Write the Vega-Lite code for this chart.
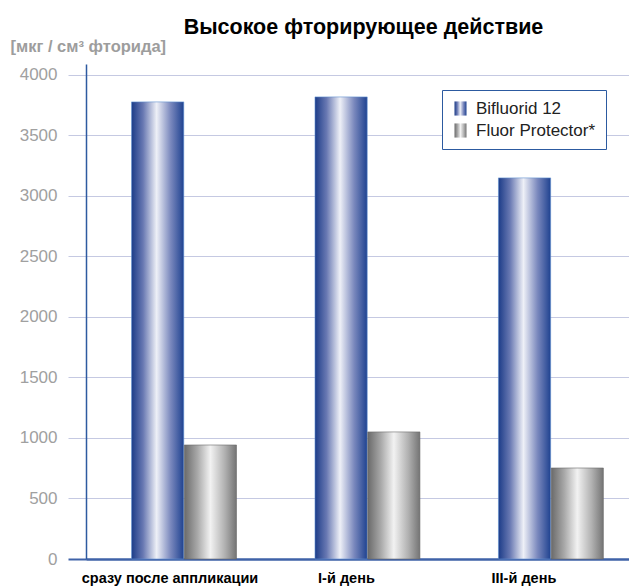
{
  "$schema": "https://vega.github.io/schema/vega-lite/v6.json",
  "width": 543,
  "height": 495,
  "autosize": {"type": "none"},
  "padding": {"left": 86, "top": 64, "right": 0, "bottom": 29},
  "background": "white",
  "title": {
    "text": "Высокое фторирующее действие",
    "font": "Liberation Sans",
    "fontSize": 21.5,
    "fontWeight": "bold",
    "color": "#000000",
    "anchor": "middle",
    "frame": "group",
    "baseline": "alphabetic",
    "offset": -17,
    "dx": 6
  },
  "config": {
    "view": {"stroke": null},
    "font": "Liberation Sans"
  },
  "data": {
    "values": [
      {"day": "сразу после аппликации", "series": "Bifluorid 12", "value": 3777},
      {"day": "сразу после аппликации", "series": "Fluor Protector*", "value": 942},
      {"day": "I-й день", "series": "Bifluorid 12", "value": 3818},
      {"day": "I-й день", "series": "Fluor Protector*", "value": 1050},
      {"day": "III-й день", "series": "Bifluorid 12", "value": 3149},
      {"day": "III-й день", "series": "Fluor Protector*", "value": 752}
    ]
  },
  "mark": {
    "type": "bar",
    "strokeWidth": 0.6,
    "stroke": {"expr": "datum.series === 'Bifluorid 12' ? '#5f8fd0' : '#6a6a6a'"}
  },
  "encoding": {
    "x": {
      "field": "day",
      "type": "nominal",
      "sort": null,
      "scale": {"paddingInner": 0.428, "paddingOuter": 0.194, "align": 0.64},
      "axis": {
        "title": null,
        "ticks": false,
        "labelAngle": 0,
        "labelFont": "Liberation Sans",
        "labelFontSize": 14.5,
        "labelFontWeight": "bold",
        "labelColor": "#000000",
        "labelPadding": 12,
        "labelOffset": {"condition": [
          {"test": "datum.value === 'сразу после аппликации'", "value": -14},
          {"test": "datum.value === 'III-й день'", "value": -27}
        ], "value": -21},
        "domainColor": "#3f62a8",
        "domainWidth": 2
      }
    },
    "xOffset": {
      "field": "series",
      "type": "nominal",
      "sort": ["Bifluorid 12", "Fluor Protector*"],
      "scale": {"domain": ["Bifluorid 12", "Fluor Protector*"], "paddingInner": 0.01, "paddingOuter": 0}
    },
    "y": {
      "field": "value",
      "type": "quantitative",
      "scale": {"domain": [0, 4090], "nice": false},
      "axis": {
        "title": "[мкг / см³ фторида]",
        "titleAngle": 0,
        "titleAlign": "left",
        "titleBaseline": "alphabetic",
        "titleX": -76,
        "titleY": -13,
        "titleFont": "Liberation Sans",
        "titleFontSize": 16.5,
        "titleFontWeight": "bold",
        "titleColor": "#9d9d9d",
        "values": [0, 500, 1000, 1500, 2000, 2500, 3000, 3500, 4000],
        "format": "d",
        "labelFont": "Liberation Sans",
        "labelFontSize": 17,
        "labelColor": "#a0a0a0",
        "labelPadding": 11,
        "tickSize": 18,
        "tickColor": {"condition": {"test": "datum.value === 0", "value": "#3f62a8"}, "value": "#c5c9e2"},
        "tickWidth": {"condition": {"test": "datum.value === 0", "value": 2}, "value": 1},
        "grid": true,
        "gridColor": {"condition": {"test": "datum.value === 0", "value": "#3f62a8"}, "value": "#c5c9e2"},
        "gridWidth": {"condition": {"test": "datum.value === 0", "value": 2}, "value": 1},
        "domainColor": "#2d5aa0",
        "domainWidth": 1.5
      }
    },
    "color": {
      "field": "series",
      "type": "nominal",
      "scale": {
        "domain": ["Bifluorid 12", "Fluor Protector*"],
        "range": [
          {"expr": "{gradient: 'linear', x1: 0, x2: 1, y1: 0, y2: 0, stops: [{offset: 0, color: '#1c3c88'}, {offset: 0.22, color: '#6878b2'}, {offset: 0.48, color: '#eef0f7'}, {offset: 0.75, color: '#7a88bd'}, {offset: 1, color: '#1f4290'}]}"},
          {"expr": "{gradient: 'linear', x1: 0, x2: 1, y1: 0, y2: 0, stops: [{offset: 0, color: '#6a6a6a'}, {offset: 0.25, color: '#a8a8a8'}, {offset: 0.5, color: '#f2f2f2'}, {offset: 0.78, color: '#b0b0b0'}, {offset: 1, color: '#747474'}]}"}
        ]
      },
      "legend": {
        "title": null,
        "orient": "none",
        "legendX": 356,
        "legendY": 26,
        "direction": "vertical",
        "padding": 10,
        "strokeColor": "#2c5aa0",
        "fillColor": "#ffffff",
        "labelFont": "Liberation Sans",
        "labelFontSize": 17,
        "labelColor": "#222222",
        "labelOffset": 7,
        "rowPadding": 4,
        "symbolType": "M-0.85,-1H0.85V1H-0.85Z",
        "symbolSize": 200,
        "symbolStrokeWidth": 0,
        "symbolOpacity": 1
      }
    }
  }
}
